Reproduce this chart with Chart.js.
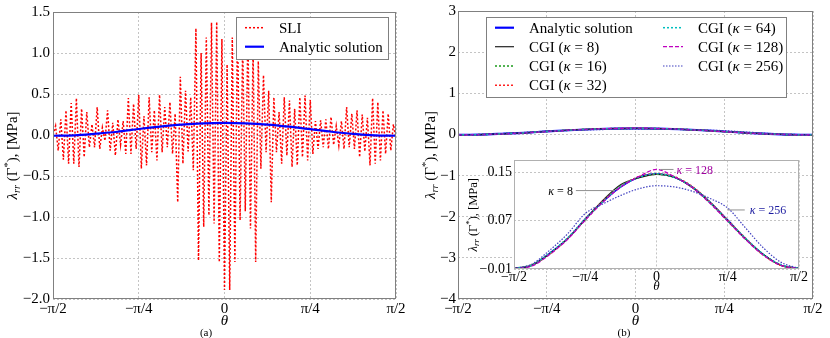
<!DOCTYPE html>
<html><head><meta charset="utf-8">
<script src="https://cdn.jsdelivr.net/npm/chart.js@4.4.1/dist/chart.umd.min.js"></script>
<style>
html,body{margin:0;padding:0;background:#fff;}
body{width:830px;height:338px;position:relative;overflow:hidden;}
canvas{position:absolute;display:block;}
</style></head><body>
<canvas id="left" width="415" height="338" style="left:0;top:0"></canvas>
<canvas id="right" width="415" height="338" style="left:415px;top:0"></canvas>
<canvas id="inset" width="370" height="145" style="left:460px;top:150px"></canvas>
<script>
// ---------------- data ----------------
const THETA_TICKS = [-0.5, -0.25, 0, 0.25, 0.5];            // in units of pi
const THETA_LABELS = ['−π/2', '−π/4', '0', 'π/4', 'π/2'];
const LEFT_Y_TICKS = [-2, -1.5, -1, -0.5, 0, 0.5, 1, 1.5];
const LEFT_Y_LABELS = ['−2.0', '−1.5', '−1.0', '−0.5', '0.0', '0.5', '1.0', '1.5'];
const RIGHT_Y_TICKS = [-4, -3, -2, -1, 0, 1, 2, 3];
const RIGHT_Y_LABELS = ['−4', '−3', '−2', '−1', '0', '1', '2', '3'];
const INSET_Y_TICKS = [-0.01, 0.07, 0.15];
const INSET_Y_LABELS = ['−0.01', '0.07', '0.15'];

const CURVE_THETA = [-0.5, -0.4375, -0.375, -0.3125, -0.25, -0.1875, -0.125, -0.0625, 0,
                     0.0625, 0.125, 0.1875, 0.25, 0.3125, 0.375, 0.4375, 0.5];
const ANALYTIC = [-0.009, -0.004, 0.016, 0.040, 0.073, 0.102, 0.126, 0.142, 0.148, 0.142, 0.126, 0.101, 0.071, 0.040, 0.014, -0.004, -0.009];
const CGI_8    = [-0.009, -0.004, 0.015, 0.040, 0.072, 0.104, 0.130, 0.141, 0.147, 0.142, 0.125, 0.100, 0.070, 0.040, 0.014, -0.004, -0.009];
const CGI_16   = [-0.009, -0.003, 0.016, 0.041, 0.072, 0.102, 0.128, 0.142, 0.147, 0.142, 0.126, 0.101, 0.070, 0.040, 0.014, -0.004, -0.009];
const CGI_32   = [-0.009, -0.004, 0.015, 0.040, 0.073, 0.103, 0.127, 0.143, 0.148, 0.143, 0.127, 0.101, 0.071, 0.041, 0.013, -0.004, -0.009];
const CGI_64   = [-0.009, -0.004, 0.016, 0.041, 0.073, 0.102, 0.127, 0.142, 0.148, 0.142, 0.126, 0.100, 0.070, 0.041, 0.014, -0.003, -0.009];
const CGI_128  = [-0.009, -0.005, 0.014, 0.039, 0.071, 0.101, 0.126, 0.143, 0.155, 0.143, 0.125, 0.099, 0.069, 0.039, 0.013, -0.004, -0.009];
const CGI_256  = [-0.009, -0.002, 0.021, 0.048, 0.082, 0.098, 0.112, 0.123, 0.128, 0.126, 0.119, 0.107, 0.091, 0.058, 0.025, 0.001, -0.009];

const SLI = [0.00,
  0.11, -0.19, 0.19, -0.30, 0.30, -0.35, 0.39, -0.35, 0.45, -0.39,
  0.32, -0.27, 0.28, -0.15, 0.13, -0.15, 0.34, -0.17, 0.09, -0.07,
  0.30, -0.19, 0.15, -0.25, 0.19, -0.12, 0.17, -0.23, 0.45, -0.23,
  0.38, -0.17, 0.49, -0.41, 0.23, -0.37, 0.46, -0.21, 0.30, -0.31,
  0.49, -0.21, 0.34, -0.15, 0.40, -0.23, 0.26,
  -0.82, 0.71, -0.35, 0.54, -0.20, 0.46, -0.43,
  1.30, -1.53, 1.00, -1.12, 1.19, -0.98, 1.37, -1.08, 1.38, -1.55, 1.17, -1.89,
  0.86, -1.89, 1.19, -1.55, 1.37, -1.04, 1.11, -0.93, 1.25, -1.14, 1.05, -1.55,
  0.90, -0.41, 0.73, -0.21, 0.54, -0.82,
  0.46, -0.21, 0.28, -0.35, 0.46, -0.25, 0.42, -0.39, 0.32, -0.37, 0.46, -0.27,
  0.48, -0.31, 0.43, -0.23, 0.17, -0.17, 0.18, -0.15, 0.19, -0.17, 0.22, -0.12,
  0.11, -0.13, 0.17, -0.17, 0.34, -0.15, 0.26, -0.17, 0.30, -0.27, 0.25, -0.20,
  0.21, -0.37, 0.45, -0.35, 0.40, -0.31, 0.30, -0.23, 0.26, -0.19, 0.13, -0.05];
const SLI_THETA = SLI.map((_, i) => -0.5 + i / (SLI.length - 1));

// annotation anchors in the inset (data units)
const NOTE_THETA = [-0.146, 0, 0.25];
const NOTE_VALUE = [0.120, 0.155, 0.0895];
const NOTE_TEXT = ['κ = 8', 'κ = 128', 'κ = 256'];

// ---------------- helpers ----------------
const SERIF = "'Liberation Serif','DejaVu Serif',serif";
Chart.defaults.font.family = SERIF;
function pts(xs, ys) { return xs.map((x, i) => ({x, y: ys[i]})); }
function fontStr(size, italic) { return (italic ? 'italic ' : '') + size + 'px ' + SERIF; }
function drawRuns(ctx, runs, x, y, align, rot) {
  ctx.save(); ctx.translate(x, y); if (rot) ctx.rotate(rot);
  ctx.textBaseline = 'alphabetic'; ctx.textAlign = 'left';
  let total = 0;
  const ws = runs.map(r => { ctx.font = fontStr(r.s, r.i); const w = ctx.measureText(r.t).width; total += w; return w; });
  let cx = align === 'center' ? -total / 2 : align === 'right' ? -total : 0;
  runs.forEach((r, k) => { ctx.font = fontStr(r.s, r.i); ctx.fillStyle = r.c || '#000'; ctx.fillText(r.t, cx, r.dy || 0); cx += ws[k]; });
  ctx.restore();
}
function labelRuns(label, size, color) {
  return label.split(/(κ)/).filter(p => p).map(p => ({t: p, s: size, i: p === 'κ', c: color}));
}
function yTitleRuns(s) {
  const sub = s * 0.7;
  return [{t: 'λ', s, i: true}, {t: 'rr', s: sub, i: true, dy: s * 0.22}, {t: ' (Γ', s},
          {t: '*', s: sub, dy: -s * 0.35}, {t: '), [MPa]', s}];
}

const deco = {
  id: 'deco',
  beforeDraw(chart, args, o) {
    if (o.fillArea) {
      const a = chart.chartArea, ctx = chart.ctx;
      ctx.save(); ctx.fillStyle = '#fff'; ctx.fillRect(a.left, a.top, a.width, a.height); ctx.restore();
    }
  },
  afterDatasetsDraw(chart, args, o) {
    const a = chart.chartArea, ctx = chart.ctx;
    ctx.save();
    ctx.strokeStyle = o.frameColor; ctx.lineWidth = 1;
    ctx.strokeRect(Math.round(a.left) + 0.5, Math.round(a.top) + 0.5, Math.round(a.width) - 1, Math.round(a.height) - 1);
    ctx.restore();
    if (o.notes) {
      const sx = chart.scales.x, sy = chart.scales.y;
      o.notes.forEach((n, k) => {
        const px = sx.getPixelForValue(NOTE_THETA[k]), py = sy.getPixelForValue(NOTE_VALUE[k]);
        ctx.save(); ctx.strokeStyle = '#909090'; ctx.lineWidth = 1;
        ctx.beginPath(); ctx.moveTo(px + n.l0, py + n.dy); ctx.lineTo(px + n.l1, py + n.dy); ctx.stroke();
        ctx.restore();
        drawRuns(ctx, labelRuns(NOTE_TEXT[k], 12, n.color), px + n.tx, py + n.dy + 4.5, n.align);
      });
    }
  },
  afterDraw(chart, args, o) {
    const a = chart.chartArea, ctx = chart.ctx;
    const cxm = (a.left + a.right) / 2, cym = (a.top + a.bottom) / 2;
    drawRuns(ctx, yTitleRuns(o.yTitleSize), o.yTitleX, cym, 'center', -Math.PI / 2);
    drawRuns(ctx, [{t: 'θ', s: o.xTitleSize, i: true}], cxm, o.xTitleY, 'center');
    if (o.caption) drawRuns(ctx, [{t: o.caption.text, s: 11}], o.caption.x, o.caption.y, 'center');
    if (o.legend) {
      const L = o.legend;
      ctx.save();
      ctx.fillStyle = '#fff'; ctx.fillRect(L.box[0], L.box[1], L.box[2], L.box[3]);
      ctx.strokeStyle = '#808080'; ctx.lineWidth = 1;
      ctx.strokeRect(L.box[0] + 0.5, L.box[1] + 0.5, L.box[2], L.box[3]);
      ctx.restore();
      L.items.forEach(it => {
        const ds = chart.data.datasets[it.ds];
        ctx.save();
        ctx.strokeStyle = ds.borderColor; ctx.lineWidth = ds.borderWidth;
        ctx.setLineDash(ds.borderDash || []);
        ctx.beginPath(); ctx.moveTo(it.sx0, it.y); ctx.lineTo(it.sx1, it.y); ctx.stroke();
        ctx.restore();
        drawRuns(ctx, labelRuns(ds.label, 15), it.tx, it.y + 5, 'left');
      });
    }
  }
};

function xScale(fontSize, height, pad) {
  return {
    type: 'linear', min: -0.5, max: 0.5,
    afterBuildTicks: s => { s.ticks = THETA_TICKS.map(v => ({value: v})); },
    afterFit: s => { s.height = height; },
    ticks: {autoSkip: false, maxRotation: 0, padding: pad, color: '#000', font: {family: SERIF, size: fontSize},
            callback: (v, i) => THETA_LABELS[i]},
    grid: {color: '#c4c4c4', lineWidth: 1, drawTicks: false},
    border: {display: false, dash: [2, 2]}
  };
}
function yScale(ticks, labels, min, max, fontSize, width, pad) {
  return {
    type: 'linear', min, max,
    afterBuildTicks: s => { s.ticks = ticks.map(v => ({value: v})); },
    afterFit: s => { s.width = width; },
    ticks: {autoSkip: false, padding: pad, color: '#000', font: {family: SERIF, size: fontSize},
            callback: (v, i) => labels[i]},
    grid: {color: '#c4c4c4', lineWidth: 1, drawTicks: false},
    border: {display: false, dash: [2, 2]}
  };
}
function cgiDatasets(mainWidth) {
  return [
    {label: 'Analytic solution', data: pts(CURVE_THETA, ANALYTIC), borderColor: '#0000ff', borderWidth: mainWidth, order: 7},
    {label: 'CGI (κ = 8)', data: pts(CURVE_THETA, CGI_8), borderColor: '#222222', borderWidth: 1.2, order: 6},
    {label: 'CGI (κ = 16)', data: pts(CURVE_THETA, CGI_16), borderColor: '#1a9a1a', borderWidth: 1.5, borderDash: [2, 2], order: 5},
    {label: 'CGI (κ = 32)', data: pts(CURVE_THETA, CGI_32), borderColor: '#ff2020', borderWidth: 1.5, borderDash: [2, 2], order: 4},
    {label: 'CGI (κ = 64)', data: pts(CURVE_THETA, CGI_64), borderColor: '#00bfbf', borderWidth: 1.5, borderDash: [2, 2], order: 3},
    {label: 'CGI (κ = 128)', data: pts(CURVE_THETA, CGI_128), borderColor: '#bf00bf', borderWidth: 1.3, borderDash: [4, 2], order: 2},
    {label: 'CGI (κ = 256)', data: pts(CURVE_THETA, CGI_256), borderColor: '#4040c0', borderWidth: 1.2, borderDash: [1.5, 1.5], order: 1}
  ].map(d => Object.assign(d, {pointRadius: 0, cubicInterpolationMode: 'monotone', fill: false}));
}
const common = {responsive: false, animation: false, devicePixelRatio: 1, events: []};

// ---------------- left chart ----------------
new Chart(document.getElementById('left'), {
  type: 'line',
  data: {datasets: [
    {label: 'SLI', data: pts(SLI_THETA, SLI), borderColor: '#ff0000', borderWidth: 1.5, borderDash: [2, 2],
     pointRadius: 0, tension: 0, order: 1},
    {label: 'Analytic solution', data: pts(CURVE_THETA, ANALYTIC), borderColor: '#0000ff', borderWidth: 2.2,
     pointRadius: 0, cubicInterpolationMode: 'monotone', order: 0}
  ]},
  options: Object.assign({}, common, {
    layout: {padding: {top: 11, right: 19, left: 0, bottom: 0}},
    scales: {x: xScale(15, 39, 1), y: yScale(LEFT_Y_TICKS, LEFT_Y_LABELS, -2, 1.5, 15, 53, 3)},
    plugins: {legend: {display: false}, tooltip: {enabled: false},
      deco: {frameColor: '#808080', yTitleSize: 15, yTitleX: 16.5, xTitleSize: 15, xTitleY: 325,
        caption: {text: '(a)', x: 206, y: 336},
        legend: {box: [236, 17, 152, 42], items: [
          {ds: 0, sx0: 245, sx1: 264, tx: 279, y: 27.7},
          {ds: 1, sx0: 245, sx1: 264, tx: 279, y: 46.7}]}}}
  }),
  plugins: [deco]
});

// ---------------- right chart ----------------
new Chart(document.getElementById('right'), {
  type: 'line',
  data: {datasets: cgiDatasets(2.2)},
  options: Object.assign({}, common, {
    layout: {padding: {top: 11, right: 17, left: 0, bottom: 0}},
    scales: {x: xScale(15, 39, 1), y: yScale(RIGHT_Y_TICKS, RIGHT_Y_LABELS, -4, 3, 15, 43, 2)},
    plugins: {legend: {display: false}, tooltip: {enabled: false},
      deco: {frameColor: '#808080', yTitleSize: 15, yTitleX: 19.5, xTitleSize: 15, xTitleY: 325,
        caption: {text: '(b)', x: 209, y: 336},
        legend: {box: [71, 17, 300, 80], items: [
          {ds: 0, sx0: 80, sx1: 99, tx: 114, y: 27.7},
          {ds: 1, sx0: 80, sx1: 99, tx: 114, y: 46.7},
          {ds: 2, sx0: 80, sx1: 99, tx: 114, y: 66},
          {ds: 3, sx0: 80, sx1: 99, tx: 114, y: 85.3},
          {ds: 4, sx0: 248, sx1: 268, tx: 283, y: 27.7},
          {ds: 5, sx0: 248, sx1: 268, tx: 283, y: 46.7},
          {ds: 6, sx0: 248, sx1: 268, tx: 283, y: 66}]}}}
  }),
  plugins: [deco]
});

// ---------------- inset ----------------
new Chart(document.getElementById('inset'), {
  type: 'line',
  data: {datasets: cgiDatasets(1.5)},
  options: Object.assign({}, common, {
    layout: {padding: {top: 7, right: 31, left: 0, bottom: 0}},
    scales: {x: xScale(14, 26, 0), y: yScale(INSET_Y_TICKS, INSET_Y_LABELS, -0.01, 0.17, 14, 54, 2)},
    plugins: {legend: {display: false}, tooltip: {enabled: false},
      deco: {fillArea: true, frameColor: '#b0b0b0', yTitleSize: 12.5, yTitleX: 16.7, xTitleSize: 13, xTitleY: 140,
        notes: [
          {l0: -39, l1: 0, dy: 0, tx: -42, align: 'right', color: '#000'},
          {l0: 4, l1: 17, dy: 0, tx: 20, align: 'left', color: '#a000a0'},
          {l0: 0, l1: 17, dy: 1, tx: 22, align: 'left', color: '#1c1ca0'}]}}
  }),
  plugins: [deco]
});
</script>
</body></html>
